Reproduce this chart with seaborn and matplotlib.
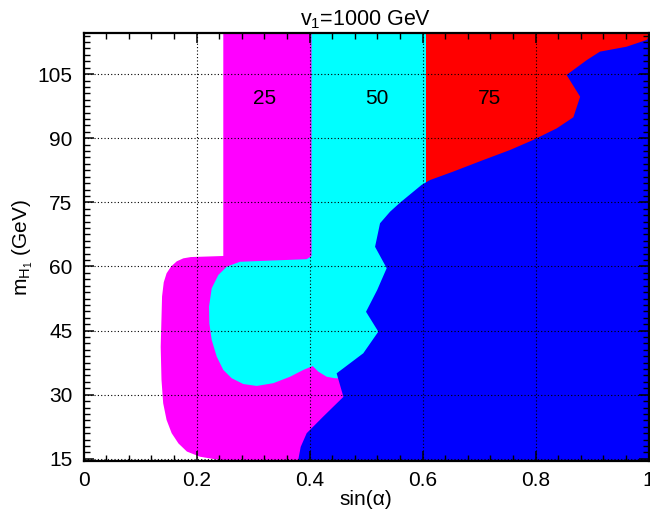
import matplotlib
matplotlib.use("Agg")
import matplotlib.pyplot as plt
import numpy as np
import seaborn as sns
from matplotlib.ticker import MultipleLocator, FixedLocator

# ---------------- data ----------------
# vertical strip edges in sin(alpha) for the 25 / 50 / 75 regions
strip_edges = [0.2474, 0.4035, 0.607]
strip_bottom = 62.45          # m_H1 where the magenta strip stops
region_labels = ["25", "50", "75"]
label_x = [0.321, 0.519, 0.719]
label_y = [98.1, 98.1, 98.1]

# left boundary of the magenta (25) blob, top -> bottom
mag_x = [0.19, 0.1766, 0.165, 0.155, 0.147, 0.142, 0.139, 0.1366, 0.138, 0.141, 0.147,
         0.156, 0.168, 0.183, 0.206, 0.2416, 0.25]
mag_y = [62.2, 61.9, 61.2, 60.0, 58.4, 56.3, 53.0, 41.2, 33.45, 28.0, 24.1,
         21.0, 18.6, 16.7, 15.5, 14.7, 14.5]

# boundary of the cyan (50) blob, from the strip edge round to the blue
cyan_x = [0.395, 0.277, 0.2535, 0.2386, 0.2269, 0.2221, 0.2227, 0.2269,
          0.2358, 0.2474, 0.2623, 0.2828, 0.3066, 0.336, 0.3655, 0.389,
          0.4057, 0.4156, 0.4304, 0.445]
cyan_y = [61.7, 61.1, 59.95, 58.0, 54.9, 50.6, 46.7, 42.8,
          38.9, 35.8, 33.85, 32.5, 32.05, 32.7, 34.2, 35.8,
          36.7, 35.4, 34.2, 33.85]

# boundary of the blue region, top -> bottom
blue_x = [1.0, 0.997, 0.961, 0.914, 0.891, 0.855, 0.879, 0.867, 0.8375,
          0.796, 0.755, 0.7076, 0.6545, 0.613, 0.5986, 0.560, 0.5425,
          0.5248, 0.516, 0.5366, 0.5198, 0.500, 0.5218, 0.4952, 0.448,
          0.460, 0.4244, 0.395, 0.3844, 0.380, 0.380]
blue_y = [113.6, 113.0, 111.4, 110.25, 108.3, 104.8, 99.7, 94.9, 92.3,
          89.6, 87.25, 84.9, 82.2, 80.2, 79.1, 74.9, 72.8,
          70.1, 64.6, 59.6, 54.5, 49.4, 44.75, 39.7, 35.0,
          29.5, 24.9, 21.0, 17.8, 14.7, 14.5]

xlim = (0.0, 1.0)
ylim = (14.5, 114.5)
xticks = [0, 0.2, 0.4, 0.6, 0.8, 1.0]
xticklabels = ["0", "0.2", "0.4", "0.6", "0.8", "1"]
yticks = [15, 30, 45, 60, 75, 90, 105]

MAGENTA, CYAN, RED, BLUE = "#ff00ff", "#00ffff", "#ff0000", "#0000ff"

# ---------------- style ----------------
sns.set_theme(style="ticks")
plt.rcParams["font.family"] = ["Liberation Sans", "DejaVu Sans"]
plt.rcParams["mathtext.fontset"] = "custom"
plt.rcParams["mathtext.rm"] = "Liberation Sans"
plt.rcParams["mathtext.it"] = "Liberation Sans"
plt.rcParams["mathtext.default"] = "regular"

fig = plt.figure(figsize=(6.5, 5.15), dpi=100)
ax = fig.add_axes([0.1285, 0.1049, 0.8692, 0.8301])
ax.set_facecolor("white")

x0, x1 = xlim
y0, y1 = ylim

# magenta (25): strip + rounded blob (right side covered by later layers)
px = [strip_edges[0], strip_edges[0]] + mag_x + [x1, x1]
py = [y1, strip_bottom] + mag_y + [y0, y1]
ax.fill(px, py, color=MAGENTA, lw=0, zorder=1)

# cyan (50)
px = [strip_edges[1], strip_edges[1]] + cyan_x + [x1, x1]
py = [y1, strip_bottom] + cyan_y + [cyan_y[-1], y1]
ax.fill(px, py, color=CYAN, lw=0, zorder=1.1)

# red (75)
px = [strip_edges[2], strip_edges[2], x1, x1]
py = [y1, 70, 70, y1]
ax.fill(px, py, color=RED, lw=0, zorder=1.2)

# blue
px = blue_x + [x1]
py = blue_y + [y0]
ax.fill(px, py, color=BLUE, lw=0, zorder=1.3)

for t, lx, ly in zip(region_labels, label_x, label_y):
    ax.text(lx, ly, t, ha="center", va="baseline", fontsize=15, color="black", zorder=3)

ax.set_xlim(*xlim)
ax.set_ylim(*ylim)
ax.xaxis.set_major_locator(FixedLocator(xticks))
ax.set_xticklabels(xticklabels)
ax.xaxis.set_minor_locator(MultipleLocator(0.04))
ax.yaxis.set_major_locator(FixedLocator(yticks))
ax.yaxis.set_minor_locator(MultipleLocator(1.5))

ax.set_axisbelow(False)
ax.grid(True, which="major", color="black", linestyle=(0, (1, 2)), linewidth=0.8, zorder=2)
ax.grid(False, which="minor")

ax.tick_params(which="both", direction="in", top=True, right=True, color="black",
               labelsize=15, labelcolor="black")
ax.tick_params(which="major", length=7, width=1.1)
ax.tick_params(axis="x", which="major", pad=7)
ax.tick_params(axis="y", which="major", pad=8)
ax.tick_params(which="minor", length=4, width=1.0)
for s in ax.spines.values():
    s.set_linewidth(1.6)
    s.set_color("black")
    s.set_zorder(4)

ax.set_title(r"v$_1$=1000 GeV", fontsize=15.5, pad=6, color="black")
ax.set_xlabel(r"sin(α)", fontsize=15, labelpad=0, color="black")
ax.set_ylabel(r"m$_{\mathrm{H}_1}$ (GeV)", fontsize=15, labelpad=2, color="black")

fig.savefig("out.png", dpi=100)
